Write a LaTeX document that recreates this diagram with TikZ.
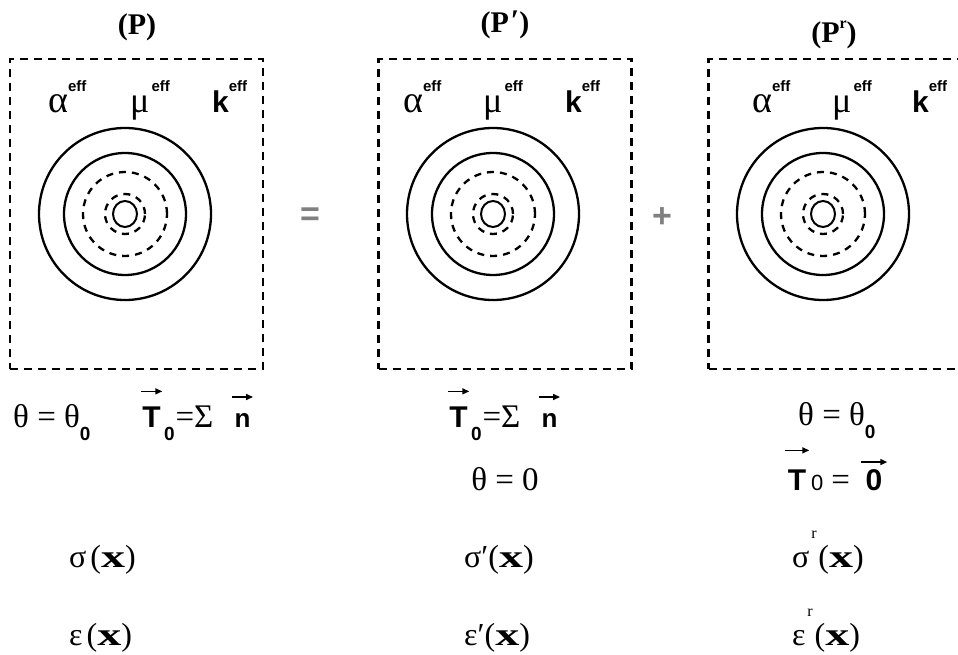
\documentclass[tikz,border=0pt]{standalone}
\usepackage{graphicx}
\usepackage{fontspec}
\usetikzlibrary{shapes.geometric,arrows.meta}
\setmainfont{Liberation Serif}
\newfontfamily\sansf{Liberation Sans}
\newcommand\sz[1]{\fontsize{#1}{#1}\selectfont}
\newcommand\sbf{\sansf\bfseries}
\newcommand\bx{\scalebox{1.5}[1]{\textbf{x}}}
\newsavebox\vbx
\newlength\vlen
% #1 gap below arrow, #2 extra arrow length, #3 content
\newcommand\vecover[3][10pt]{\sbox\vbx{#3}\setlength\vlen{\wd\vbx}\addtolength\vlen{#2}%
  \vbox{\offinterlineskip\halign{##\cr\hfil\tikz[x=1pt,y=1pt,baseline=0pt]\draw[line width=1.5pt,-{Triangle[length=7pt,width=6pt]}] (0pt,0pt)--(\the\vlen,0pt);\hfil\cr\noalign{\kern#1}\hfil\usebox\vbx\hfil\cr}}}
\newcommand\effsup{\raisebox{21pt}{\sz{15}\sbf eff}}
\begin{document}
\begin{tikzpicture}[x=1pt,y=-1pt,
  frame/.style={draw, line width=2.3pt, dash pattern=on 8pt off 6pt, minimum width=253pt, minimum height=310pt, inner sep=0pt},
  ring/.style={draw, line width=2.3pt, circle, inner sep=0pt},
  dring/.style={draw, line width=2.3pt, circle, inner sep=0pt, dash pattern=on 7pt off 6pt},
  core/.style={draw, line width=2pt, ellipse, inner sep=0pt, minimum width=24pt, minimum height=26pt},
  lbl/.style={inner sep=0pt, anchor=base},
  lblw/.style={inner sep=0pt, anchor=base west},
  op/.style={inner sep=0pt, text=gray, font=\sz{34}\sbf}]
\useasboundingbox (0,0) rectangle (958,655);
\clip (0,0) rectangle (958,655);
% frames
\node[frame] (b1) at (136.5,214) {};
\node[frame] (b2) at (505,214) {};
\node[frame] (b3) at (835,214) {};
% rings
\foreach \n/\cx in {1/125,2/493,3/823}{
  \node[ring, minimum size=172pt] (r\n a) at (\cx,214) {};
  \node[ring, minimum size=122pt] (r\n b) at (\cx,214) {};
  \node[dring, minimum size=84pt] (r\n c) at (\cx,214) {};
  \node[dring, minimum size=40pt] (r\n d) at (\cx,214) {};
  \node[core] (r\n e) at (\cx,214) {};
}
% titles
\node[lbl] (t1) at (137,35) {\sz{30}\bfseries (P)};
\node[lbl] (t2) at (505,33) {\sz{30}\bfseries (P\kern2pt\raisebox{2pt}{′})};
\node[lbl] (t3) at (834,43) {\sz{30}\bfseries (P\raisebox{14pt}{\sz{16}r})};
% effective properties
\node[lblw] (a1) at (48,113) {\sz{38}α\kern0pt\effsup};
\node[lblw] (m1) at (130,113) {\sz{36}μ\kern2pt\effsup};
\node[lblw] (k1) at (212,113) {\sz{30}\sbf k\kern0pt\effsup};
\node[lblw] (a2) at (403,113) {\sz{38}α\kern0pt\effsup};
\node[lblw] (m2) at (483,113) {\sz{36}μ\kern2pt\effsup};
\node[lblw] (k2) at (565,113) {\sz{30}\sbf k\kern0pt\effsup};
\node[lblw] (a3) at (752,113) {\sz{38}α\kern0pt\effsup};
\node[lblw] (m3) at (832,113) {\sz{36}μ\kern2pt\effsup};
\node[lblw] (k3) at (912,113) {\sz{30}\sbf k\kern0pt\effsup};
% operators
\node[op] (eq) at (310,217) {=};
\node[op] (pl) at (662,218) {+};
% loading conditions
\node[lblw] (c1) at (13,427) {\sz{33}θ = θ\raisebox{-13pt}{\sz{19}\sbf 0}};
\node[lblw] (c2) at (140,427) {\sz{33}\vecover[12pt]{3pt}{\sz{30}\sbf T}\kern1pt\raisebox{-13pt}{\sz{19}\sbf 0}\kern1pt=Σ\kern18pt\vecover[13pt]{5pt}{\sz{26}\sbf n}};
\node[lblw] (c3) at (447,427) {\sz{33}\vecover[12pt]{3pt}{\sz{30}\sbf T}\kern1pt\raisebox{-13pt}{\sz{19}\sbf 0}\kern1pt=Σ\kern18pt\vecover[13pt]{5pt}{\sz{26}\sbf n}};
\node[lbl] (c4) at (505,490) {\sz{33}θ = 0};
\node[lblw] (c5) at (798,425) {\sz{33}θ = θ\raisebox{-13pt}{\sz{19}\sbf 0}};
\node[lblw] (c6) at (784,490) {\sz{33}\vecover[16pt]{6pt}{\sz{30}\sbf T}\kern1pt{\sz{22}\sansf 0}\kern8pt=\kern10pt\vecover[4pt]{10pt}{\sz{30}\sbf 0}};
% fields
\node[lblw] (s1) at (69,567) {\sz{32}σ\kern4pt(\bx)};
\node[lblw] (s2) at (464,567) {\sz{32}σ′(\bx)};
\node[lblw] (s3) at (792,567) {\sz{32}σ\makebox[9pt]{\raisebox{29pt}{\sz{16}r}}(\bx)};
\node[lblw] (e1) at (69,645) {\sz{32}ε\kern4pt(\bx)};
\node[lblw] (e2) at (464,645) {\sz{32}ε′(\bx)};
\node[lblw] (e3) at (792,645) {\sz{32}ε\makebox[9pt]{\raisebox{29pt}{\sz{16}r}}(\bx)};
\end{tikzpicture}
\end{document}
